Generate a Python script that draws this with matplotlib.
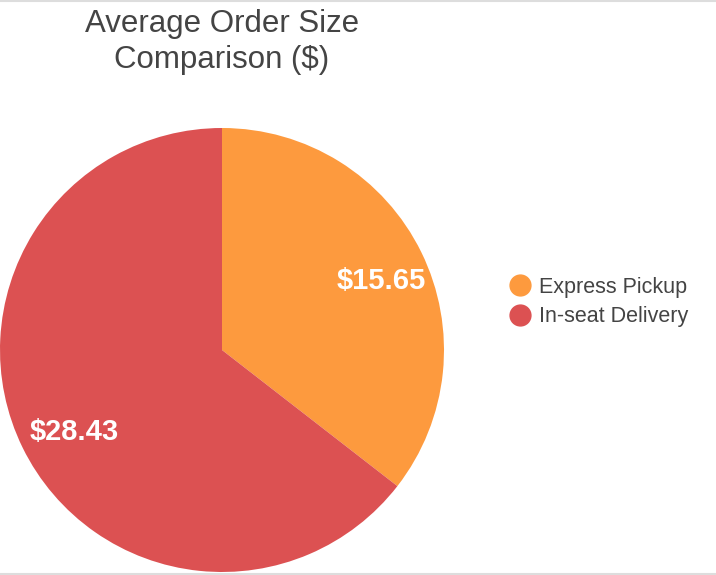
import matplotlib
matplotlib.use("Agg")
import numpy as np
import matplotlib.pyplot as plt
from matplotlib.lines import Line2D

categories = ["Express Pickup", "In-seat Delivery"]
values = [15.65, 28.43]
colors = ["#FD9A3E", "#DC5152"]
title = "Average Order Size\nComparison ($)"

plt.rcParams['font.family'] = ['Liberation Sans', 'DejaVu Sans']

W, H = 716, 575
fig = plt.figure(figsize=(W / 100, H / 100), dpi=100)

# pie axes: centre (222, 350) px, radius 222 px
cx, cy, r = 222, 350, 222
ax = fig.add_axes([(cx - r) / W, (H - cy - r) / H, 2 * r / W, 2 * r / H])
labels_iter = iter(values)
wedges, texts, autotexts = ax.pie(
    values, colors=colors, startangle=90, counterclock=False,
    autopct=lambda p: f"${next(labels_iter):.2f}", pctdistance=0.78,
    wedgeprops=dict(linewidth=0), radius=1.0,
    textprops=dict(color="white", fontsize=21, fontweight="bold"))
for w, t in zip(wedges, autotexts):
    ang = np.deg2rad((w.theta1 + w.theta2) / 2)
    t.set_position((0.77 * np.cos(ang) + 0.025, 0.77 * np.sin(ang) - 0.03))
ax.set_xlim(-1, 1)
ax.set_ylim(-1, 1)
ax.set_aspect("auto")
ax.axis("off")

fig.text(cx / W, 1 - 42 / H, title, ha="center", va="center", fontsize=22.5,
         color="#444444", linespacing=1.25)

handles = [Line2D([0], [0], marker="o", linestyle="", markersize=15,
                  markerfacecolor=c, markeredgecolor=c) for c in colors]
fig.legend(handles, categories, loc="center left",
           bbox_to_anchor=(497 / W, 1 - 302 / H), frameon=False,
           fontsize=15.5, labelcolor="#444444", handletextpad=0.35,
           labelspacing=0.4, borderpad=0, handlelength=1.1)

# thin border lines at top and bottom
fig.add_artist(Line2D([0, 1], [1 - 0.5 / H, 1 - 0.5 / H], color="#DDDDDD",
                      lw=1.5, transform=fig.transFigure))
fig.add_artist(Line2D([0, 1], [1.0 / H, 1.0 / H], color="#DDDDDD",
                      lw=1.5, transform=fig.transFigure))

fig.savefig("out.png", dpi=100)
